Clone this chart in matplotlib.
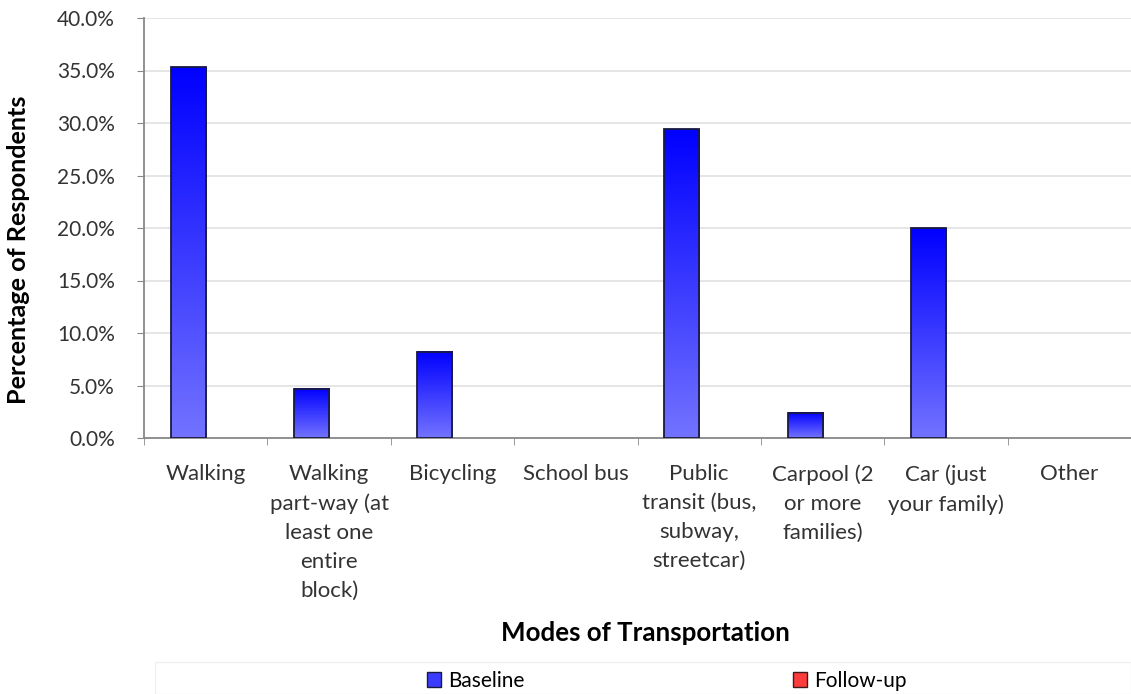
import matplotlib.pyplot as plt
import matplotlib.patches as mpatches
import numpy as np
from matplotlib.colors import LinearSegmentedColormap

plt.rcParams['font.family'] = ['Lato', 'DejaVu Sans']

# data
categories = ["Walking", "Walking\npart-way (at\nleast one\nentire\nblock)", "Bicycling",
              "School bus", "Public\ntransit (bus,\nsubway,\nstreetcar)", "Carpool (2\nor more\nfamilies)",
              "Car (just\nyour family)", "Other"]
baseline = [35.3, 4.7, 8.2, 0.0, 29.4, 2.4, 20.0, 0.0]
follow_up = [0, 0, 0, 0, 0, 0, 0, 0]
yticks = [0, 5, 10, 15, 20, 25, 30, 35, 40]

fig = plt.figure(figsize=(11.31, 6.94), dpi=100)
ax = fig.add_axes([144 / 1131, 1 - 438 / 694, 1 - 144 / 1131, 420 / 694])

x = np.arange(len(categories))
w = 0.284  # gap width 150%
blues = LinearSegmentedColormap.from_list("b", ["#7373ff", "#0000ff"])

bars = ax.bar(x - w / 2, baseline, w, facecolor="none", edgecolor="#1a1a40", linewidth=1.3, zorder=3)
grad = np.linspace(0, 1, 256).reshape(-1, 1)
for b in bars:
    h = b.get_height()
    if h <= 0:
        b.set_visible(False)
        continue
    x0 = b.get_x()
    ax.imshow(grad, cmap=blues, origin="lower", aspect="auto",
              extent=(x0, x0 + b.get_width(), 0, h), zorder=2)

ax.set_xlim(-0.5, len(categories) - 0.5)
ax.set_ylim(0, 40)
ax.set_yticks(yticks)
ax.set_yticklabels([f"{v:.1f}%" for v in yticks], fontsize=15, color="#333333")
ax.set_xticks(x)
ax.set_xticklabels(categories, fontsize=16, color="#333333", linespacing=1.55, va="top")
ax.set_xticks(np.arange(len(categories) + 1) - 0.5, minor=True)
ax.tick_params(axis="x", which="major", length=0, pad=19)
ax.tick_params(axis="x", which="minor", length=5, color="#888888", direction="out")
ax.tick_params(axis="y", length=5, color="#888888", direction="out", pad=16)

ax.grid(axis="y", color="#e3e3e3", linewidth=1.3, zorder=0)
ax.set_axisbelow(True)
for s in ["top", "right"]:
    ax.spines[s].set_visible(False)
for s in ["left", "bottom"]:
    ax.spines[s].set_color("#888888")
    ax.spines[s].set_linewidth(1.3)

ax.set_ylabel("Percentage of Respondents", fontsize=18.2, fontweight="bold")
ax.yaxis.set_label_coords(-0.1155, 0.448)
ax.set_xlabel("Modes of Transportation", fontsize=18.6, fontweight="bold")
ax.xaxis.set_label_coords(0.5076, -0.436)

# legend box across the bottom
fig.patches.append(mpatches.Rectangle((155 / 1131, 0), 1 - 155 / 1131, 32 / 694, transform=fig.transFigure,
                                      facecolor="white", edgecolor="#f0f0f0", linewidth=1))
handles = [mpatches.Patch(facecolor="#3c3cff", edgecolor="#1a1a40", label="Baseline"),
           mpatches.Patch(facecolor="#ff3c3c", edgecolor="#401a1a", label="Follow-up")]
fig.legend(handles=handles, loc="center", bbox_to_anchor=(667 / 1131, 13 / 694),
           ncol=2, frameon=False, fontsize=15, handlelength=0.65, handleheight=0.75,
           handletextpad=0.35, columnspacing=12.9, borderaxespad=0)

fig.savefig("out.png", dpi=100)
